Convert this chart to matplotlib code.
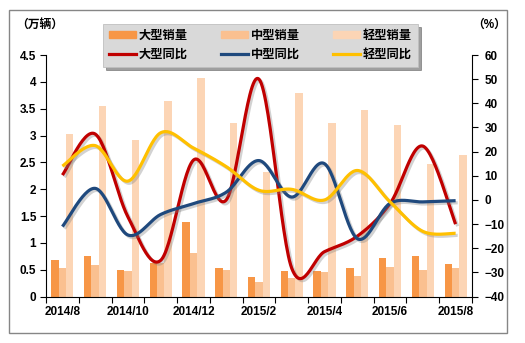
import numpy as np
import matplotlib
matplotlib.use("Agg")
import matplotlib.pyplot as plt
import matplotlib.patheffects as pe
from matplotlib.patches import Rectangle, Patch
from matplotlib.lines import Line2D

plt.rcParams["font.family"] = ["Liberation Sans", "Noto Sans CJK SC"]
plt.rcParams["font.weight"] = "bold"

months = ["2014/8", "2014/9", "2014/10", "2014/11", "2014/12", "2015/1", "2015/2",
          "2015/3", "2015/4", "2015/5", "2015/6", "2015/7", "2015/8"]
# sales, 10k units
large_sales = [0.68, 0.76, 0.50, 0.63, 1.39, 0.54, 0.37, 0.48, 0.48, 0.53, 0.72, 0.76, 0.61]
medium_sales = [0.53, 0.59, 0.48, 0.62, 0.82, 0.50, 0.28, 0.34, 0.46, 0.38, 0.56, 0.50, 0.53]
light_sales = [3.03, 3.55, 2.92, 3.64, 4.07, 3.24, 2.33, 3.80, 3.24, 3.47, 3.20, 2.47, 2.64]
# year-on-year growth, %
large_yoy = [10.3, 27.3, -7.0, -25.0, 16.5, 0.0, 50.0, -28.3, -21.4, -15.0, -1.5, 22.3, -10.0]
medium_yoy = [-11.0, 4.8, -14.5, -6.0, -1.5, 3.2, 16.3, 1.2, 15.0, -16.0, -1.4, -0.8, -0.3]
light_yoy = [14.0, 22.5, 7.8, 27.8, 21.5, 13.8, 4.0, 4.4, 0.0, 12.2, -0.8, -13.0, -13.8]

C_LARGE, C_MED, C_LIGHT = "#F79646", "#FAC090", "#FCD5B5"
C_RED, C_BLUE, C_YEL = "#C00000", "#1F497D", "#FFC000"


def smooth(y, n=30):
    # piecewise cubic Bezier through the points (Catmull-Rom style control points)
    y = np.asarray(y, float)
    x = np.arange(len(y), dtype=float)
    px = np.concatenate([[x[0]], x, [x[-1]]])
    py = np.concatenate([[y[0]], y, [y[-1]]])
    t = np.linspace(0, 1, n)[:, None]
    xs, ys = [], []
    for i in range(len(y) - 1):
        p0 = np.array([px[i + 1], py[i + 1]])
        p3 = np.array([px[i + 2], py[i + 2]])
        c1 = p0 + (np.array([px[i + 2], py[i + 2]]) - np.array([px[i], py[i]])) / 6
        c2 = p3 - (np.array([px[i + 3], py[i + 3]]) - np.array([px[i + 1], py[i + 1]])) / 6
        b = ((1 - t) ** 3) * p0 + 3 * ((1 - t) ** 2) * t * c1 + 3 * (1 - t) * t ** 2 * c2 + t ** 3 * p3
        xs.append(b[:, 0])
        ys.append(b[:, 1])
    return np.concatenate(xs), np.concatenate(ys)


fig = plt.figure(figsize=(5.25, 3.43), dpi=100)
fig.patches.append(Rectangle((9 / 525, 1 - 333 / 343), 498 / 525, 323 / 343,
                             transform=fig.transFigure, fill=False,
                             edgecolor="#868686", lw=1.0))

ax = fig.add_axes([46 / 525, 1 - 296.6 / 343, 426 / 525, 241.6 / 343])
x = np.arange(len(months))
w = 0.225
ax.bar(x - w, large_sales, w, color=C_LARGE, label="大型销量")
ax.bar(x, medium_sales, w, color=C_MED, label="中型销量")
ax.bar(x + w, light_sales, w, color=C_LIGHT, label="轻型销量")

ax.set_xlim(-0.5, len(months) - 0.5)
ax.set_ylim(0, 4.5)
ax.set_yticks(np.arange(0, 4.51, 0.5))
ax.set_yticklabels(["0", "0.5", "1", "1.5", "2", "2.5", "3", "3.5", "4", "4.5"])
ax.set_xticks(x[::2])
ax.set_xticklabels(months[::2])
ax.set_xticks(np.arange(-0.5, len(months), 1), minor=True)
ax.tick_params(axis="x", which="major", length=0, pad=7, labelsize=8.5)
ax.tick_params(axis="x", which="minor", length=4, width=0.8)
ax.tick_params(axis="y", length=4, width=0.8, pad=3, labelsize=8.5)
for s in ["top", "right"]:
    ax.spines[s].set_visible(False)
ax.spines["left"].set_linewidth(0.8)
ax.spines["bottom"].set_linewidth(0.8)

ax2 = ax.twinx()
shadow = [pe.SimpleLineShadow(offset=(1.5, -1.5), shadow_color="#808080", alpha=0.35),
          pe.Normal()]
for vals, col in [(large_yoy, C_RED), (medium_yoy, C_BLUE), (light_yoy, C_YEL)]:
    sx, sy = smooth(vals)
    ax2.plot(sx, sy, color=col, lw=2.3, solid_capstyle="butt", path_effects=shadow)
ax2.set_ylim(-40, 60)
ax2.set_yticks(np.arange(-40, 61, 10))
ax2.tick_params(axis="y", length=4, width=0.8, pad=5, labelsize=8.5)
for s in ["top", "left", "bottom"]:
    ax2.spines[s].set_visible(False)
ax2.spines["right"].set_linewidth(0.8)

fig.text(16 / 525, 1 - 25 / 343, "（万辆）", fontsize=8.5, ha="left", va="center")
fig.text(506 / 525, 1 - 25 / 343, "（%）", fontsize=8.5, ha="right", va="center")

handles = [Patch(color=C_LARGE), Line2D([], [], color=C_RED, lw=2.3),
           Patch(color=C_MED), Line2D([], [], color=C_BLUE, lw=2.3),
           Patch(color=C_LIGHT), Line2D([], [], color=C_YEL, lw=2.3)]
labels = ["大型销量", "大型同比", "中型销量", "中型同比", "轻型销量", "轻型同比"]
leg = fig.legend(handles, labels, ncol=3, loc="upper left",
                 bbox_to_anchor=(103 / 525, 1 - 24 / 343), fontsize=8.8,
                 handlelength=2.2, handleheight=0.45, handletextpad=0.25,
                 columnspacing=2.7, labelspacing=0.55, borderpad=0.5,
                 borderaxespad=0, frameon=True, fancybox=False, shadow=True)
leg.get_frame().set_facecolor("#D9D9D9")
leg.get_frame().set_edgecolor("#BFBFBF")
leg.get_frame().set_linewidth(0.6)

fig.savefig("out.png", dpi=100)
